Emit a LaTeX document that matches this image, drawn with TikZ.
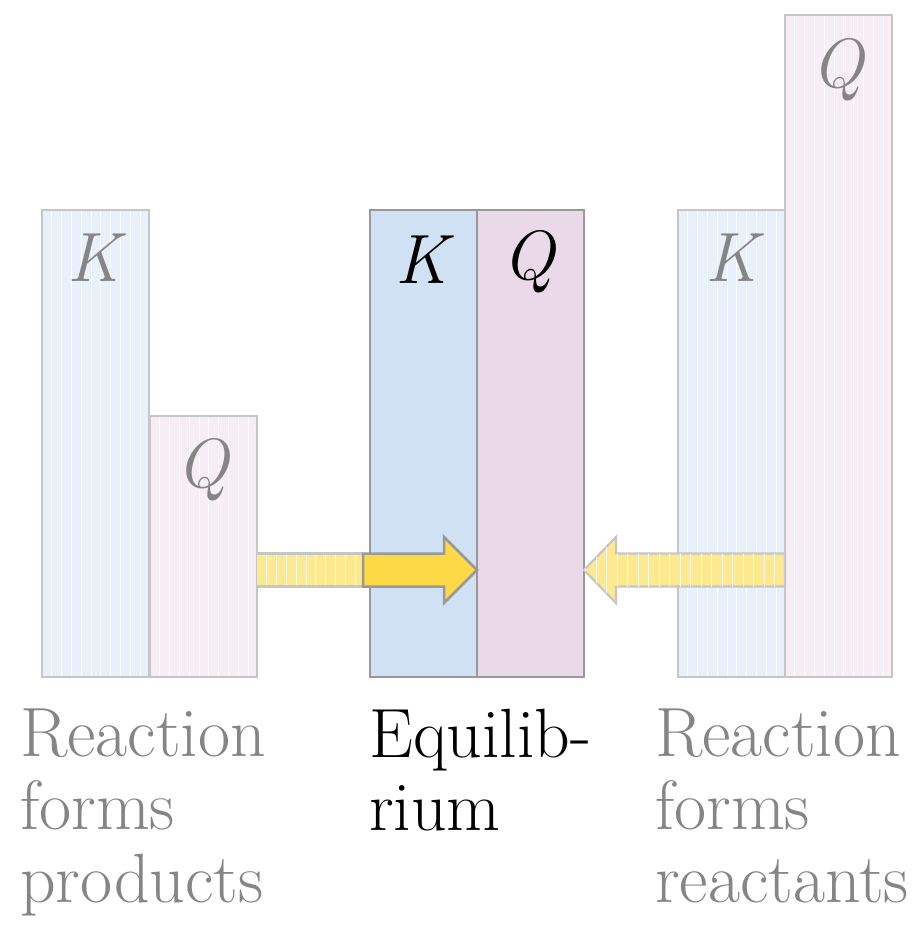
\documentclass[tikz,border=0pt]{standalone}
\usepackage{fontspec}
\usetikzlibrary{calc}
\definecolor{kblue}{HTML}{CFE1F2}
\definecolor{qpink}{HTML}{EAD9E8}
\definecolor{kfade}{HTML}{E8F1FB}
\definecolor{qfade}{HTML}{F6EDF5}
\definecolor{edgedark}{HTML}{999999}
\definecolor{edgelight}{HTML}{C6C6C6}
\definecolor{ybold}{HTML}{FDDA45}
\definecolor{yfade}{HTML}{FDE98F}
\definecolor{txtgray}{HTML}{858585}
\begin{document}
\begin{tikzpicture}[x=1bp,y=-1bp,
  bar/.style={anchor=south west, inner sep=0pt, outer sep=0pt, line width=2.2bp, minimum width=107bp},
  solidbar/.style={bar, draw=edgedark},
  fadebar/.style={bar, draw=edgelight,
    path picture={\foreach \i in {1,...,10}
      \draw[white, line width=0.9bp, opacity=0.85]
        ([xshift=\i*9.8bp]path picture bounding box.south west) --
        ([xshift=\i*9.8bp]path picture bounding box.north west);}},
  letter/.style={font=\fontsize{70}{70}\selectfont\itshape\addfontfeature{FakeBold=0.8}, inner sep=0pt},
  caption/.style={anchor=north west, align=left, inner sep=0pt,
    font=\fontsize{70}{73}\selectfont\addfontfeature{FakeBold=0.8}},
  boldarrow/.style={fill=ybold, draw=edgedark, line width=2.5bp, line join=miter},
  fadearrow/.style={fill=yfade, draw=edgelight, line width=2.2bp, line join=miter},
  stripe/.style={white, line width=0.9bp, opacity=0.85}]
\useasboundingbox (0,0) rectangle (924,926);
\fill[white] (0,0) rectangle (924,926);

% left group
\node[fadebar, fill=kfade, minimum height=467bp] (lK) at (42,677) {};
\node[fadebar, fill=qfade, minimum height=261bp] (lQ) at (150,677) {};
% center group
\node[solidbar, fill=kblue, minimum height=467bp] (cK) at (370,677) {};
\node[solidbar, fill=qpink, minimum height=467bp] (cQ) at (477,677) {};
% right group
\node[fadebar, fill=kfade, minimum height=467bp] (rK) at (678,677) {};
\node[fadebar, fill=qfade, minimum height=662bp] (rQ) at (785,677) {};

% letters
\node[letter, text=txtgray] (lKt) at (94,258) {K};
\node[letter, text=txtgray] (lQt) at (203,470) {Q};
\node[letter, text=black] (cKt) at (422,260) {K};
\node[letter, text=black] (cQt) at (529,262) {Q};
\node[letter, text=txtgray] (rKt) at (732,258) {K};
\node[letter, text=txtgray] (rQt) at (838,70) {Q};

% left arrow (faded shaft, then bold)
\coordinate (ltail) at (lQ.east |- 0,570);
\coordinate (ltip) at (cK.east |- 0,570);
\fill[yfade] ($(ltail)+(0,-16.5)$) rectangle ($(ltip)+(-114,16.5)$);
\foreach \i in {1,...,10}
  \draw[stripe] ($(ltail)+(\i*9.8,-16.5)$) -- ($(ltail)+(\i*9.8,16.5)$);
\draw[edgelight, line width=2.2bp] ($(ltail)+(0,-16.5)$) -- ($(ltip)+(-114,-16.5)$)
  ($(ltail)+(0,16.5)$) -- ($(ltip)+(-114,16.5)$);
\draw[boldarrow] (ltip) -- ++(-33,-33) -- ++(0,16.5) -- ++(-81,0) -- ++(0,33)
  -- ++(81,0) -- ++(0,16.5) -- cycle;

% right arrow (faded)
\coordinate (rtail) at (rQ.west |- 0,570);
\coordinate (rtip) at (cQ.east |- 0,570);
\draw[fadearrow] (rtip) -- ++(32,-33) -- ++(0,16.5) -- (rtail |- 0,553.5)
  -- (rtail |- 0,586.5) -- ($(rtip)+(32,16.5)$) -- ++(0,16.5) -- cycle;
\begin{scope}
  \clip (rtip) -- ++(32,-33) -- ++(0,16.5) -- (rtail |- 0,553.5)
  -- (rtail |- 0,586.5) -- ($(rtip)+(32,16.5)$) -- ++(0,16.5) -- cycle;
  \foreach \i in {1,...,19}
    \draw[stripe] ($(rtail)+(-\i*10.5,-40)$) -- ($(rtail)+(-\i*10.5,40)$);
\end{scope}

% captions
\node[caption, text=txtgray] (lcap) at (20,709) {Reaction\\forms\\products};
\node[caption, text=black] (ccap) at (369,709) {Equilib-\\rium};
\node[caption, text=txtgray] (rcap) at (655,709) {Reaction\\forms\\reactants};
\end{tikzpicture}
\end{document}
